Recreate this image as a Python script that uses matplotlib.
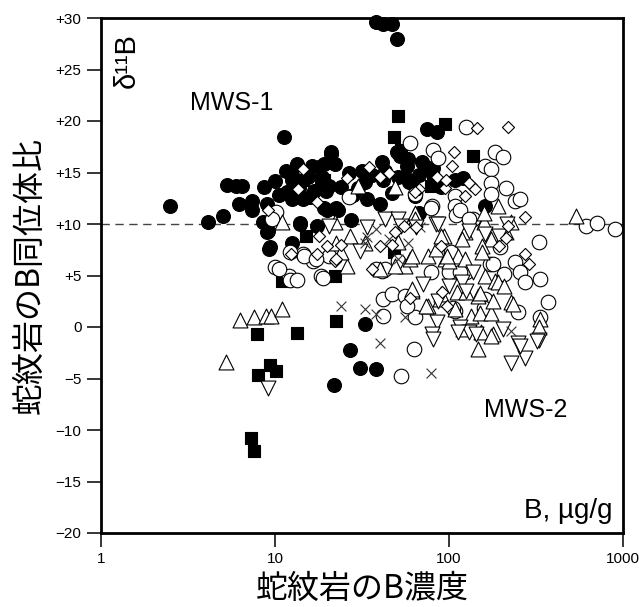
import matplotlib
matplotlib.use("Agg")
from matplotlib import pyplot as plt
from matplotlib.ticker import NullLocator

plt.rcParams['font.family'] = ['Liberation Sans', 'DejaVu Sans']
JP = ['Noto Sans CJK JP', 'DejaVu Sans']

fc_x = [38, 42, 47, 50, 11.3, 2.5, 4.1, 5.0, 5.3, 6.0, 6.5, 6.2, 7.4, 7.4, 8.6, 10, 9, 8.5, 9.1, 9.3,
        11.5, 13.3, 12.5, 11.7, 12.6, 14.4, 15.8, 18, 21, 22, 19.7, 20, 22.4, 14, 17.5, 12.6,
        12.6, 16.4, 21, 26.7, 33, 41, 42, 51, 58, 59, 34, 40, 23, 27.4, 50, 52,
        75, 85, 21, 19, 18.7, 20.5, 31.5, 36, 43, 57, 56, 61, 67, 70, 74, 81, 90, 108, 19, 67, 120, 160,
        9.2, 33, 27, 31, 38, 21.7, 9, 14, 47, 64, 10.5, 13.8, 15.5, 16.8, 24, 28, 30]
fc_y = [29.6, 29.4, 29.4, 28.0, 18.4, 11.7, 10.2, 10.8, 13.8, 13.7, 13.7, 11.9, 12.2, 11.4, 13.6, 14.2, 11.9, 10.2, 9.3, 7.8,
        15.1, 15.8, 14.3, 13.1, 12.4, 12.4, 12.6, 15.5, 16.8, 15.8, 13.2, 11.4, 11.6, 10, 9.8, 8.2,
        14.8, 15.6, 16.0, 15, 14.1, 16, 14.3, 14.6, 16.3, 14.1, 12.4, 11.9, 11.4, 10.4, 17, 16.6,
        19.2, 18.9, 17, 15.8, 14.6, 13.7, 15.1, 14.8, 15.1, 15.6, 14.6, 14.1, 14.8, 16, 15.5, 15.4, 13.6, 14.3, 11.6, 11.1, 14.5, 11.7,
        7.6, 0.3, -2.2, -4, -4.1, -5.6, 9.2, 10.1, 13, 12.7, 12.8, 13.5, 14.6, 13.2, 13.6, 12.8, 13.5]

fs_x = [51, 48, 95, 137, 19, 79, 81, 53, 48, 14.4, 18.4, 15, 22, 11, 22.5, 7.9, 13.3, 9.4, 10.1, 8, 7.3, 7.6]
fs_y = [20.5, 18.4, 19.7, 16.6, 14.3, 13.7, 14.8, 17.2, 7.3, 14.3, 14.3, 8.8, 5, 4.5, 0.6, -0.7, -0.6, -3.7, -4.3, -4.7, -10.8, -12.0]

oc_x = [125, 60, 81, 87, 183, 204, 160, 175, 175, 212, 175, 108, 80, 108, 110, 240, 26.7, 64, 137, 196, 103, 51,
        255, 115, 79, 130, 610, 710, 900, 330, 172, 240, 255, 272, 335, 208, 125, 79, 41, 42, 47, 56, 42, 64,
        108, 160, 250, 370, 335, 63, 53, 100, 115, 178, 106, 158, 57,
        10.2, 10, 12, 14.4, 16.5, 18.4, 9.6, 10.6, 12.2, 13.3, 18.8, 14.7, 20.5, 17.3, 12.2, 43, 38]
oc_y = [19.4, 17.9, 17.2, 16.4, 17, 16.5, 15.6, 15.3, 14, 13.5, 12.9, 12.7, 11.7, 11.7, 10.9, 12.2, 12.6, 12.9, 10.5, 7.8, 7.3, 6.4,
        12.4, 11.4, 11.6, 10.5, 9.8, 10.1, 9.5, 8.3, 6.1, 6.3, 5.3, 4.4, 4.7, 5.1, 5.3, 5.3, 5.4, 2.7, 3.2, 3, 1.1, 1,
        1.6, 2.7, 1.5, 2.4, 1, -2.1, -4.8, 5.3, 5.3, 6.1, 1.8, 1.8, 2,
        11.2, 5.8, 5, 7.1, 6.4, 5, 10.5, 5.6, 4.6, 4.6, 4.8, 6.9, 6.9, 6.6, 7.3, 5.6, 5.6]

tu_x = [6.3, 7.6, 8.9, 9.5, 11, 5.2, 26, 22.4, 27, 56, 60, 61, 11, 22, 30, 49, 64, 76, 95, 76, 93, 124, 158, 192,
        228, 158, 84, 113, 175, 100, 24, 33, 51, 212, 540, 64, 90, 118, 154, 97, 123, 160, 61, 40, 49, 61, 74,
        89, 111, 133, 150, 175, 228, 146, 183, 335, 330, 153, 180, 146, 121, 108, 90, 125, 150, 192, 232, 180,
        175, 154, 208]
tu_y = [0.7, 1, 1.1, 1.1, 1.7, -3.4, 5.9, 8.2, 8.8, 5.9, 6.6, 3.5, 10.2, 10.2, 13.7, 13.6, 11.1, 6.9, 6.6, 2, 8.8, 9.2, 10.2, 11.7,
        10.2, 11.1, 7.6, 6.9, 8.5, 6.4, 7.3, 8.2, 8.3, 9.2, 10.8, 10.5, 8.8, 8.5, 7.9, 6.9, 6.6, 5, 6.9, 5.6, 5.9, 3.7, 2,
        2.7, 3.4, 1.1, 1.4, 1.4, 2.4, 3, 4.5, 0.8, 0, -0.5, -0.7, -2.1, -0.2, 1.7, 3.2, 3.4, 3.3, 4.4, 2.2, 2.5,
        -0.9, 7.3, 4]

td_x = [43, 51, 84, 65, 216, 20.5, 34, 87, 130, 160, 195, 137, 118, 100, 71, 87, 85, 116, 130, 80, 81,
        205, 250, 330, 272, 228, 113, 125, 255, 320, 143, 31, 9.1, 53]
td_y = [10.5, 10.5, 10, 9.7, 10, 9.8, 9.7, 10, 9.3, 9, 8.8, 5.3, 4.4, 4, 4.2, 2.5, 0.5, 0, -0.5, -0.7, -1.2,
        -0.2, -1.6, -1.3, -3.0, -3.5, -0.5, 3.5, -1.8, -1.4, -0.7, 7.4, -5.9, 9.8]

od_x = [144, 218, 107, 104, 85, 67, 34.5, 40, 45, 26, 95, 124, 133, 14.4, 13.5, 17.5, 9.1, 18, 20, 12.4, 17.5, 22,
        96, 130, 141, 272, 218, 195, 272, 290, 212, 47, 91, 60, 97, 40, 55, 65, 24, 22.5, 36, 64, 49, 90]
od_y = [19.3, 19.4, 17, 15.6, 14.6, 13.4, 15.5, 14.6, 15, 14.5, 13.5, 12.7, 13.8, 15.3, 13.4, 12.1, 11.4, 8.8, 7.9, 7.1, 7.1, 6.4,
        14.3, 14, 13.4, 10.7, 9.8, 7.9, 7.1, 6.1, 8.6, 8, 3.4, 2.8, 2, 7.9, 9.8, 9.7, 8, 6.6, 5.6, 13.1, 9.2, 7.9]

xx_x = [24, 33, 38, 40, 56, 228, 79, 38, 34, 45, 68, 33, 51, 58]
xx_y = [2, 1.7, 1.3, -1.6, 1, -0.4, -4.5, 9.5, 8.7, 8.5, 9.7, 8.2, 6.6, 8.2]

y_ticks = list(range(-20, 31, 5))
y_labels = ['\u221220', '\u221215', '\u221210', '\u22125', '0', '+5', '+10', '+15', '+20', '+25', '+30']
x_ticks = [1, 10, 100, 1000]
x_labels = ['1', '10', '100', '1000']

fig = plt.figure(figsize=(6.39, 6.07), dpi=100)
ax = fig.add_axes([101 / 639, 1 - 533 / 607, 522 / 639, 515 / 607])
ax.set_xscale('log')
ax.set_xlim(1, 1000)
ax.set_ylim(-20, 30)

ax.axhline(10, color='#444444', lw=1, dashes=(6, 4), zorder=0.5)

kw = dict(edgecolors='black', linewidths=0.8, clip_on=False)
ax.scatter(fc_x, fc_y, s=100, marker='o', facecolors='black', zorder=2, **kw)
ax.scatter(fs_x, fs_y, s=78, marker='s', facecolors='black', zorder=2.1, **kw)
ax.scatter(oc_x, oc_y, s=110, marker='o', facecolors='white', zorder=2.2, **kw)
ax.scatter(tu_x, tu_y, s=115, marker='^', facecolors='white', zorder=2.3, **kw)
ax.scatter(td_x, td_y, s=115, marker='v', facecolors='white', zorder=2.3, **kw)
ax.scatter(xx_x, xx_y, s=50, marker='x', color='#333333', linewidths=0.8, zorder=2.4, clip_on=False)
ax.scatter(od_x, od_y, s=38, marker='D', facecolors='white', zorder=2.5, **kw)

ax.set_xticks(x_ticks)
ax.set_xticklabels(x_labels)
ax.xaxis.set_minor_locator(NullLocator())
ax.set_yticks(y_ticks)
ax.set_yticklabels(y_labels)
ax.tick_params(direction='out', length=10, width=1.1, labelsize=11, pad=4)
for sp in ax.spines.values():
    sp.set_linewidth(2)
    sp.set_zorder(3)

ax.set_xlabel('蛇紋岩のB濃度', family=JP, fontsize=23, labelpad=5)
ax.set_ylabel('蛇紋岩のB同位体比', family=JP, fontsize=23, labelpad=7)

ax.text(1.41, 25.9, 'δ¹¹B', rotation=90, fontsize=21, ha='center', va='center')
ax.text(5.66, 21.75, 'MWS-1', fontsize=18, ha='center', va='center')
ax.text(277, -8.06, 'MWS-2', fontsize=18, ha='center', va='center')
ax.text(865, -18.5, 'B, µg/g', fontsize=20, ha='right', va='baseline')

plt.savefig('out.png', dpi=100)
